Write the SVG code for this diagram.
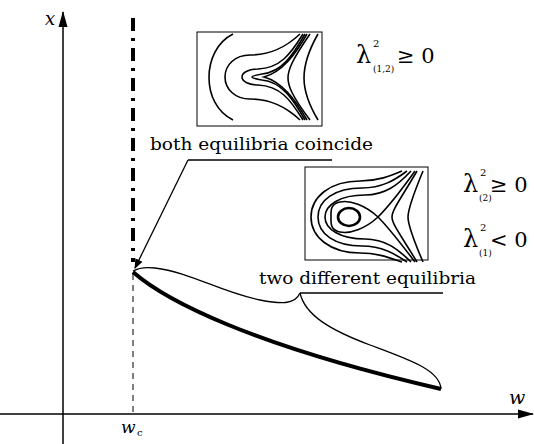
<svg xmlns="http://www.w3.org/2000/svg" width="534" height="444" viewBox="0 0 534 444">
<defs>
<marker id="ah" viewBox="0 0 10 10" refX="9" refY="5" markerWidth="10" markerHeight="10" markerUnits="userSpaceOnUse" orient="auto">
<path d="M0,1 L10,5 L0,9 Z" fill="#000"/>
</marker>
<marker id="axh" viewBox="0 0 16 10" refX="15" refY="5" markerWidth="16" markerHeight="10" markerUnits="userSpaceOnUse" orient="auto">
<path d="M0,0.5 L16,5 L0,9.5 Z" fill="#000"/>
</marker>
</defs>
<style>
.ax{stroke:#000;stroke-width:1.5;fill:none}
.thin{stroke:#000;stroke-width:1.3;fill:none}
.ph{stroke:#000;stroke-width:1.6;fill:none}
.box{stroke:#000;stroke-width:1;fill:#fff}
text{fill:#000;font-family:'DejaVu Serif',serif}
.lbl{font-size:17px}
.it{font-style:italic}
</style>
<rect width="534" height="444" fill="#fff"/>
<g id="axes">
<line class="ax" x1="63" y1="444" x2="63" y2="12" marker-end="url(#axh)"/>
<line class="ax" x1="0" y1="414" x2="533" y2="414" marker-end="url(#axh)"/>
<text class="it" font-family="DejaVu Serif, serif" x="45" y="25" font-size="18">x</text>
<text class="it" font-family="DejaVu Serif, serif" x="509" y="404" font-size="19">w</text>
<text class="it" font-family="DejaVu Serif, serif" x="121" y="433" font-size="17">w</text>
<text font-family="DejaVu Serif, serif" x="137" y="436" font-size="10">c</text>
</g>
<g id="connectors">
<line x1="133" y1="18" x2="133" y2="262" stroke="#000" stroke-width="4" stroke-dasharray="13,7,3,7"/>
<line x1="133" y1="274" x2="133" y2="414" stroke="#000" stroke-width="1" stroke-dasharray="6,5"/>
<path d="M133,272 C165,300 250,345 441,389" stroke="#000" stroke-width="4" fill="none"/>
<path class="thin" d="M133,271 C140,267 147,267 155,268 C190,272 220,292 260,300 C280,304 295,305 300,293"/>
<path class="thin" d="M300,293 C305,315 330,330 370,345 C410,360 440,370 441,389"/>
<line class="thin" x1="300" y1="293" x2="443" y2="293"/>
<line class="thin" x1="188" y1="160" x2="332" y2="160"/>
<line class="thin" x1="188" y1="160" x2="135" y2="268" marker-end="url(#ah)"/>
</g>
<g id="label-coincide">
<text class="lbl" font-family="DejaVu Serif, serif" x="150" y="150" textLength="223" lengthAdjust="spacingAndGlyphs">both equilibria coincide</text>
</g>
<g id="label-two">
<text class="lbl" font-family="DejaVu Serif, serif" x="259" y="284" textLength="217" lengthAdjust="spacingAndGlyphs">two different equilibria</text>
</g>
<g id="inset1">
<rect class="box" x="197" y="32" width="125" height="94"/>
<path class="ph" d="M233,34 C201,50 201,105 233,120"/>
<path class="ph" d="M300,34 C285,48 270,55 250,55 C235,55 225,65 225,77 C225,89 235,99 250,99 C270,99 285,106 300,120"/>
<path class="ph" d="M303,34 C290,55 280,68 258,69 C248,69 242,73 242,77 C242,81 248,85 258,85 C280,86 290,99 303,120"/>
<path class="ph" d="M305,34 C293,55 282,72 262,74 C256,75 252,76 252,77 C252,78 256,79 262,80 C282,82 293,99 305,120"/>
<path class="ph" d="M307,34 C295,55 282,72 264,77 C282,82 295,99 307,120"/>
<path class="ph" d="M310,34 C292,60 288,70 288,78 C288,86 292,96 310,120"/>
<path class="ph" d="M318,34 C306,55 304,70 304,78 C304,86 306,100 318,120"/>
</g>
<g id="inset2">
<rect class="box" x="305" y="167" width="123" height="93"/>
<ellipse cx="349" cy="217" rx="11" ry="9" fill="none" stroke="#000" stroke-width="2.6"/>
<path class="ph" d="M378,217 C365,205 350,200 340,202 C330,204 331,211 331,217 C331,223 330,230 340,232 C350,234 365,229 378,217"/>
<path class="ph" d="M378,217 C390,205 405,185 415,171 M378,217 C390,229 405,249 415,262"/>
<path class="ph" d="M411,171 C398,185 385,195 365,195 C340,195 325,205 325,217 C325,229 340,239 365,239 C385,239 398,249 411,262"/>
<path class="ph" d="M407,171 C395,180 382,188 362,188 C335,188 318,200 318,217 C318,234 335,246 362,246 C382,246 395,254 407,262"/>
<path class="ph" d="M402,171 C390,176 378,181 360,181 C330,181 311,197 311,217 C311,237 330,253 360,253 C378,253 390,258 402,262"/>
<path class="ph" d="M417,171 C400,200 392,210 392,217 C392,224 400,234 417,262"/>
<path class="ph" d="M423,171 C411,200 408,210 408,217 C408,224 411,234 423,262"/>
</g>
<g id="label-lam12" font-family="DejaVu Serif, serif">
<text x="356" y="63" font-size="24">λ</text>
<text x="373" y="47" font-size="10">2</text>
<text x="373" y="72" font-size="9">(1,2)</text>
<text x="397" y="63" font-size="21">≥ 0</text>
</g>
<g id="label-lam2" font-family="DejaVu Serif, serif">
<text x="463" y="192" font-size="24">λ</text>
<text x="480" y="176" font-size="10">2</text>
<text x="479" y="201" font-size="9">(2)</text>
<text x="490" y="192" font-size="21">≥ 0</text>
</g>
<g id="label-lam1" font-family="DejaVu Serif, serif">
<text x="463" y="247" font-size="24">λ</text>
<text x="480" y="231" font-size="10">2</text>
<text x="479" y="256" font-size="9">(1)</text>
<text x="490" y="247" font-size="21">&lt; 0</text>
</g>
</svg>
